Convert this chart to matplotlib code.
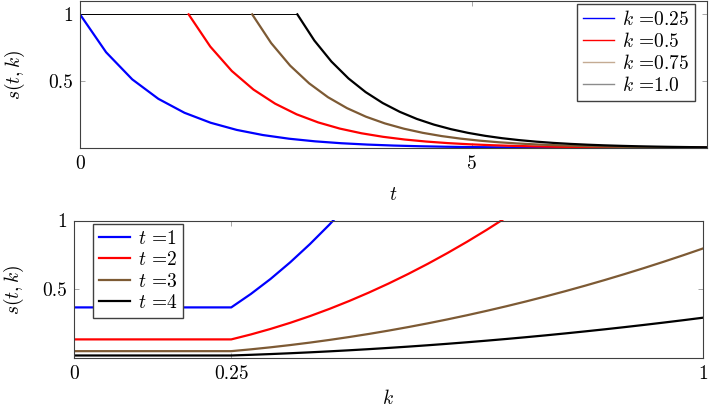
import numpy as np
import matplotlib
matplotlib.use('agg')
import matplotlib.pyplot as plt

plt.rcParams['font.family'] = 'serif'
plt.rcParams['font.serif'] = ['cmr10']
plt.rcParams['mathtext.fontset'] = 'cm'
plt.rcParams['axes.unicode_minus'] = False
plt.rcParams['axes.formatter.use_mathtext'] = True

# top panel: s(t,k) against t, one curve per k
k_values = [0.25, 0.5, 0.75, 1.0]
t_start = [0.0, 1.386, 2.197, 2.773]   # where each curve leaves s = 1

t_k025 = [0.0, 0.333, 0.667, 1.0, 1.333, 1.667, 2.0, 2.333, 2.667, 3.0, 3.333, 3.667, 4.0,
          4.333, 4.667, 5.0, 5.333, 5.667, 6.0, 6.333, 6.667, 7.0, 7.333, 7.667, 8.0]
s_k025 = [1.0, 0.7165, 0.5134, 0.3679, 0.2636, 0.1889, 0.1353, 0.0970, 0.0695, 0.0498, 0.0357,
          0.0256, 0.0183, 0.0131, 0.0094, 0.0067, 0.0048, 0.0035, 0.0025, 0.0018, 0.0013,
          0.0009, 0.0007, 0.0005, 0.0003]

t_k05 = [1.386, 1.662, 1.937, 2.213, 2.489, 2.764, 3.040, 3.315, 3.591, 3.867, 4.142, 4.418,
         4.693, 4.969, 5.245, 5.520, 5.796, 6.071, 6.347, 6.623, 6.898, 7.174, 7.449, 7.725, 8.0]
s_k05 = [1.0, 0.7591, 0.5762, 0.4374, 0.3320, 0.2520, 0.1913, 0.1452, 0.1102, 0.0837, 0.0635,
         0.0482, 0.0366, 0.0278, 0.0211, 0.0160, 0.0121, 0.0092, 0.0070, 0.0053, 0.0040,
         0.0031, 0.0023, 0.0018, 0.0013]

t_k075 = [2.197, 2.439, 2.681, 2.923, 3.164, 3.406, 3.648, 3.890, 4.132, 4.373, 4.615, 4.857,
          5.099, 5.340, 5.582, 5.824, 6.066, 6.308, 6.549, 6.791, 7.033, 7.275, 7.516, 7.758, 8.0]
s_k075 = [1.0, 0.7852, 0.6165, 0.4841, 0.3801, 0.2985, 0.2343, 0.1840, 0.1445, 0.1135, 0.0891,
          0.0700, 0.0549, 0.0431, 0.0339, 0.0266, 0.0209, 0.0164, 0.0129, 0.0101, 0.0079,
          0.0062, 0.0049, 0.0038, 0.0030]

t_k1 = [2.773, 2.990, 3.208, 3.426, 3.644, 3.862, 4.080, 4.297, 4.515, 4.733, 4.951, 5.169,
        5.386, 5.604, 5.822, 6.040, 6.258, 6.476, 6.693, 6.911, 7.129, 7.347, 7.564, 7.782, 8.0]
s_k1 = [1.0, 0.8043, 0.6469, 0.5203, 0.4185, 0.3366, 0.2707, 0.2177, 0.1751, 0.1409, 0.1133,
        0.0911, 0.0733, 0.0590, 0.0474, 0.0381, 0.0307, 0.0247, 0.0198, 0.0160, 0.0128,
        0.0103, 0.0083, 0.0067, 0.0054]

# bottom panel: s(t,k) against k, one curve per t
t_values = [1, 2, 3, 4]
k_grid = [0.0, 0.25, 0.28125, 0.3125, 0.34375, 0.375, 0.40625, 0.4375, 0.46875, 0.5, 0.53125,
          0.5625, 0.59375, 0.625, 0.65625, 0.6875, 0.71875, 0.75, 0.78125, 0.8125, 0.84375,
          0.875, 0.90625, 0.9375, 0.96875, 1.0]
s_t1 = [0.368, 0.368, 0.466, 0.575, 0.696, 0.828, 0.971, 1.127, 1.293]
s_t2 = [0.1353, 0.1353, 0.1713, 0.2115, 0.2559, 0.3045, 0.3574, 0.4145, 0.4758, 0.5413, 0.6111,
        0.6851, 0.7634, 0.8458, 0.9325, 1.0235]
s_t3 = [0.0498, 0.0498, 0.0630, 0.0778, 0.0941, 0.1120, 0.1315, 0.1525, 0.1750, 0.1991, 0.2248,
        0.2520, 0.2808, 0.3112, 0.3431, 0.3765, 0.4115, 0.4481, 0.4862, 0.5259, 0.5671,
        0.6099, 0.6542, 0.7001, 0.7476, 0.7966]
s_t4 = [0.0183, 0.0183, 0.0232, 0.0286, 0.0346, 0.0412, 0.0484, 0.0561, 0.0644, 0.0733, 0.0827,
        0.0927, 0.1033, 0.1145, 0.1262, 0.1385, 0.1514, 0.1648, 0.1789, 0.1935, 0.2086,
        0.2244, 0.2407, 0.2576, 0.2750, 0.2931]

colors = ['#0000ff', '#ff0000', '#7d5a34', '#000000']
legend_top_colors = ['#0000ff', '#ff0000', '#c4ab93', '#8c8c8c']
fs = 14

fig = plt.figure(figsize=(7.09, 4.07), dpi=100)
ax1 = fig.add_axes([80/709, 1 - 148/407, 627/709, 147/407])
ax2 = fig.add_axes([74/709, 1 - 358/407, 629/709, 137.5/407])


def style(ax):
    for sp in ax.spines.values():
        sp.set_color('#404040')
        sp.set_linewidth(0.8)
    ax.tick_params(direction='in', length=3.5, width=0.6, color='#999999',
                   top=True, right=True, labelsize=fs, pad=5)


# flat parts (thin), then decays (thick)
for c, t0 in zip(colors, t_start):
    ax1.plot([0, t0], [1, 1], color=c, lw=0.7)
for c, t, s in zip(colors, [t_k025, t_k05, t_k075, t_k1], [s_k025, s_k05, s_k075, s_k1]):
    ax1.plot(t, s, color=c, lw=1.6)

handles = [plt.Line2D([], [], color=c, lw=1.0) for c in legend_top_colors]
ax1.legend(handles, [r'$k$ =' + str(k) for k in k_values], loc='upper right',
           bbox_to_anchor=(0.981, 0.98), borderaxespad=0, fancybox=False,
           edgecolor='#404040', framealpha=1, fontsize=fs, handlelength=1.6,
           handletextpad=0.4, labelspacing=0.16, borderpad=0.3)
ax1.set_xlim(0, 8)
ax1.set_ylim(0, 1.1)
ax1.set_xticks([0, 5])
ax1.set_yticks([0.5, 1])
ax1.set_xticklabels(['0', '5'])
ax1.set_yticklabels(['0.5', '1'])
ax1.set_xlabel(r'$t$', fontsize=fs)
ax1.set_ylabel(r'$s(t,k)$', fontsize=fs)
ax1.xaxis.set_label_coords(0.499, -0.26)
ax1.yaxis.set_label_coords(-0.085, 0.497)
style(ax1)

for c, s, tv in zip(colors, [s_t1, s_t2, s_t3, s_t4], t_values):
    ax2.plot(k_grid[:len(s)], s, color=c, lw=1.6, label=r'$t$ =' + str(tv))
ax2.legend(loc='upper left', bbox_to_anchor=(0.030, 0.976), borderaxespad=0, fancybox=False,
           edgecolor='#404040', framealpha=1, fontsize=fs, handlelength=1.6,
           handletextpad=0.4, labelspacing=0.18, borderpad=0.3)
ax2.set_xlim(0, 1)
ax2.set_ylim(0, 1)
ax2.set_xticks([0, 0.25, 1])
ax2.set_yticks([0.5, 1])
ax2.set_xticklabels(['0', '0.25', '1'])
ax2.set_yticklabels(['0.5', '1'])
ax2.set_xlabel(r'$k$', fontsize=fs)
ax2.set_ylabel(r'$s(t,k)$', fontsize=fs)
ax2.xaxis.set_label_coords(0.499, -0.222)
ax2.yaxis.set_label_coords(-0.077, 0.495)
style(ax2)

fig.savefig('out.png', dpi=100)
